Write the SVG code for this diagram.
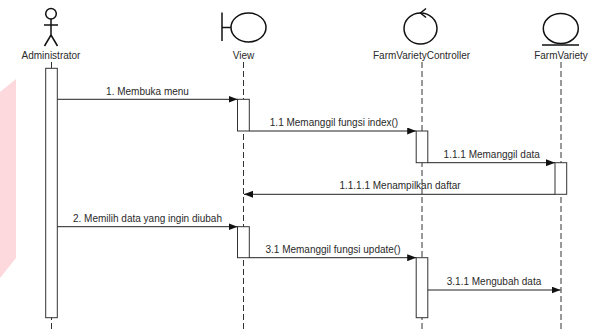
<svg xmlns="http://www.w3.org/2000/svg" width="590" height="329" viewBox="0 0 590 329">
<style>
  text { font-family: "Liberation Sans", Arial, sans-serif; font-size: 10px; fill: #2a2a2a; }
  .lbl { text-anchor: middle; }
  .icon { fill: none; stroke: #111; stroke-width: 1.5; }
  .life { stroke: #333; stroke-width: 1; stroke-dasharray: 6 3; fill: none; }
  .act { fill: #fff; stroke: #333; stroke-width: 1; }
  .msg { stroke: #222; stroke-width: 1; fill: none; marker-end: url(#arr); }
</style>
<defs>
  <marker id="arr" markerWidth="9" markerHeight="7" refX="9" refY="3.5" orient="auto" markerUnits="userSpaceOnUse">
    <path d="M0,0 L9,3.5 L0,7 Z" fill="#111"/>
  </marker>
</defs>
<rect width="590" height="329" fill="#fff"/>
<polygon points="0,92 16,79 16,258 0,278" fill="#fdd8dc"/>

<g id="administrator">
  <circle class="icon" cx="51" cy="13.7" r="5.3"/>
  <line class="icon" x1="51" y1="19" x2="51" y2="35"/>
  <line class="icon" x1="44" y1="25" x2="58" y2="25"/>
  <line class="icon" x1="51" y1="35" x2="44.5" y2="46"/>
  <line class="icon" x1="51" y1="35" x2="57.5" y2="46"/>
  <text class="lbl" x="51" y="58.5">Administrator</text>
  <line class="life" x1="51.5" y1="62" x2="51.5" y2="329"/>
  <rect class="act" x="45.7" y="68.3" width="11.6" height="249.4"/>
</g>

<g id="view">
  <line class="icon" x1="222" y1="12.5" x2="222" y2="41"/>
  <line class="icon" x1="222" y1="27.5" x2="231" y2="27.5"/>
  <ellipse class="icon" cx="248.5" cy="27.5" rx="17.5" ry="14.5"/>
  <text class="lbl" x="243.5" y="58.5">View</text>
  <line class="life" x1="243.5" y1="62" x2="243.5" y2="329"/>
  <rect class="act" x="237.5" y="99.3" width="11.8" height="31.7"/>
  <rect class="act" x="237.5" y="226.7" width="11.8" height="31"/>
</g>

<g id="farmvarietycontroller">
  <ellipse class="icon" cx="420.5" cy="28.5" rx="16.5" ry="15.5"/>
  <polyline class="icon" points="426,8.5 420.5,13 426,17.5"/>
  <text class="lbl" x="421.5" y="58.5">FarmVarietyController</text>
  <line class="life" x1="422" y1="62" x2="422" y2="329"/>
  <rect class="act" x="416.2" y="131" width="11.6" height="31.7"/>
  <rect class="act" x="416.2" y="257.7" width="11.6" height="60"/>
</g>

<g id="farmvariety">
  <ellipse class="icon" cx="560.8" cy="28.5" rx="17.5" ry="15"/>
  <line class="icon" x1="542" y1="45" x2="579" y2="45"/>
  <text class="lbl" x="561" y="58.5">FarmVariety</text>
  <line class="life" x1="561" y1="62" x2="561" y2="329"/>
  <rect class="act" x="555" y="162.7" width="11.7" height="31.6"/>
</g>

<g id="connectors">
  <line class="msg" x1="57.3" y1="99.3" x2="237.5" y2="99.3"/>
  <text class="lbl" x="147.5" y="94.5">1. Membuka menu</text>

  <line class="msg" x1="249.3" y1="131" x2="416.2" y2="131"/>
  <text class="lbl" x="334" y="126">1.1 Memanggil fungsi index()</text>

  <line class="msg" x1="427.8" y1="162.7" x2="555" y2="162.7"/>
  <text class="lbl" x="491.7" y="157.7">1.1.1 Memanggil data</text>

  <line class="msg" x1="555" y1="194.3" x2="244" y2="194.3"/>
  <text class="lbl" x="400" y="189.3">1.1.1.1 Menampilkan daftar</text>

  <line class="msg" x1="57.3" y1="226.7" x2="237.5" y2="226.7"/>
  <text class="lbl" x="147.5" y="221.7">2. Memilih data yang ingin diubah</text>

  <line class="msg" x1="249.3" y1="257.7" x2="416.2" y2="257.7"/>
  <text class="lbl" x="333" y="252.7">3.1 Memanggil fungsi update()</text>

  <line class="msg" x1="427.8" y1="290" x2="560.5" y2="290"/>
  <text class="lbl" x="494" y="285">3.1.1 Mengubah data</text>
</g>
</svg>
